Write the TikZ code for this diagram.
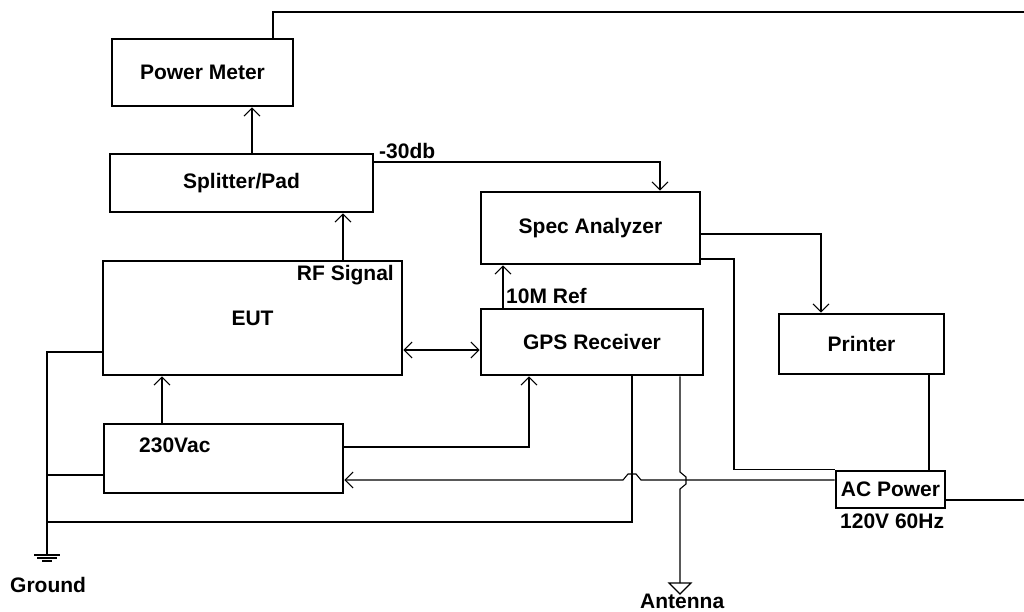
\documentclass[tikz,border=0pt]{standalone}
\usepackage{fontspec}
\setmainfont{Liberation Sans}
\usetikzlibrary{arrows.meta,positioning}
\newcommand{\lblfont}{\fontsize{21}{25}\selectfont\bfseries}

\begin{document}
\begin{tikzpicture}[x=1pt,y=-1pt,
  blk/.style={rectangle, draw, line width=2.6pt, inner sep=0pt, font=\lblfont},
  wire/.style={line width=1.1pt},
  lbl/.style={inner sep=0pt, font=\lblfont},
  >={Straight Barb[length=8pt,width=16pt]}]
\useasboundingbox (0,0) rectangle (1024,611);

\node (meter) [blk, minimum width=181pt, minimum height=67pt] at (202.5,72.5) {Power Meter};
\node (splitter) [blk, minimum width=263pt, minimum height=58pt] at (241.5,183) {Splitter/Pad};
\node (spec) [blk, minimum width=219pt, minimum height=72pt] at (590.5,228) {Spec Analyzer};
\node (eut) [blk, minimum width=299pt, minimum height=114pt] at (252.5,318) {EUT};
\node (gps) [blk, minimum width=222pt, minimum height=66pt] at (592,342) {GPS Receiver};
\node (printer) [blk, minimum width=165pt, minimum height=60pt] at (861.5,344) {Printer};
\node (mains) [blk, minimum width=239pt, minimum height=69pt] at (223.5,458.5) {};
\node (acpower) [blk, minimum width=109pt, minimum height=37pt] at (890.5,489.5) {AC Power};

\node (mainslbl) [lbl, anchor=base west] at (139,452) {230Vac};
\node (rflbl) [lbl, anchor=base east] at (394,280) {RF Signal};
\node (reflbl) [lbl, anchor=base west] at (506,303) {10M Ref};
\node (dblbl) [lbl, anchor=base west] at (379,158) {-30db};
\node (hzlbl) [lbl, anchor=base west] at (840,528) {120V 60Hz};
\node (gndlbl) [lbl, anchor=base west] at (10,592) {Ground};
\node (antlbl) [lbl, anchor=base west] at (640,608) {Antenna};

\coordinate (gnd) at (47,555);
\coordinate (ant) at (680,583);
\coordinate (top) at (1024,12);
\coordinate (out) at (1024,500);

% signal path
\draw[wire,->] (252,0 |- splitter.north) -- (252,0 |- meter.south);
\draw[wire] (273,0 |- meter.north) |- (top);
\draw[wire,->] (splitter.east |- 0,162) -| (660,0 |- spec.north);
\draw[wire,->] (343,0 |- eut.north) -- (343,0 |- splitter.south);
\draw[wire,<->] (eut.east |- 0,350) -- (gps.west |- 0,350);
\draw[wire,->] (503,0 |- gps.north) -- (503,0 |- spec.south);
\draw[wire,->] (spec.east |- 0,234) -| (821,0 |- printer.north);

% power
\draw[wire] (spec.east |- 0,259) -- (734,259) |- (acpower.north west);
\draw[wire] (929,0 |- printer.south) -- (929,0 |- acpower.north);
\draw[wire] (acpower.east |- out) -- (out);
\draw[wire,->] (acpower.west |- 0,480) -- (641,480) -- (636,474) -- (628,474) -- (623,480) -- (mains.east |- 0,480);
\draw[wire,->] (mains.east |- 0,447) -| (529,0 |- gps.south);
\draw[wire,->] (162,0 |- mains.north) -- (162,0 |- eut.south);

% ground and antenna
\draw[wire] (eut.west |- 0,352) -| (gnd);
\draw[wire] (mains.west |- 0,475) -- (47,475);
\draw[wire] (632,0 |- gps.south) |- (47,522);
\draw[wire] (680,0 |- gps.south) -- (680,472) -- (686,477) -- (686,484) -- (680,489) -- (ant);
\draw[wire] (gnd) ++(-13,0) -- ++(26,0) (gnd) ++(-10,3) -- ++(20,0) (gnd) ++(-5,6) -- ++(10,0);
\draw[wire] (ant) ++(-11,0) -- ++(22,0) -- ([yshift=-11pt]ant) -- cycle;
\end{tikzpicture}
\end{document}
